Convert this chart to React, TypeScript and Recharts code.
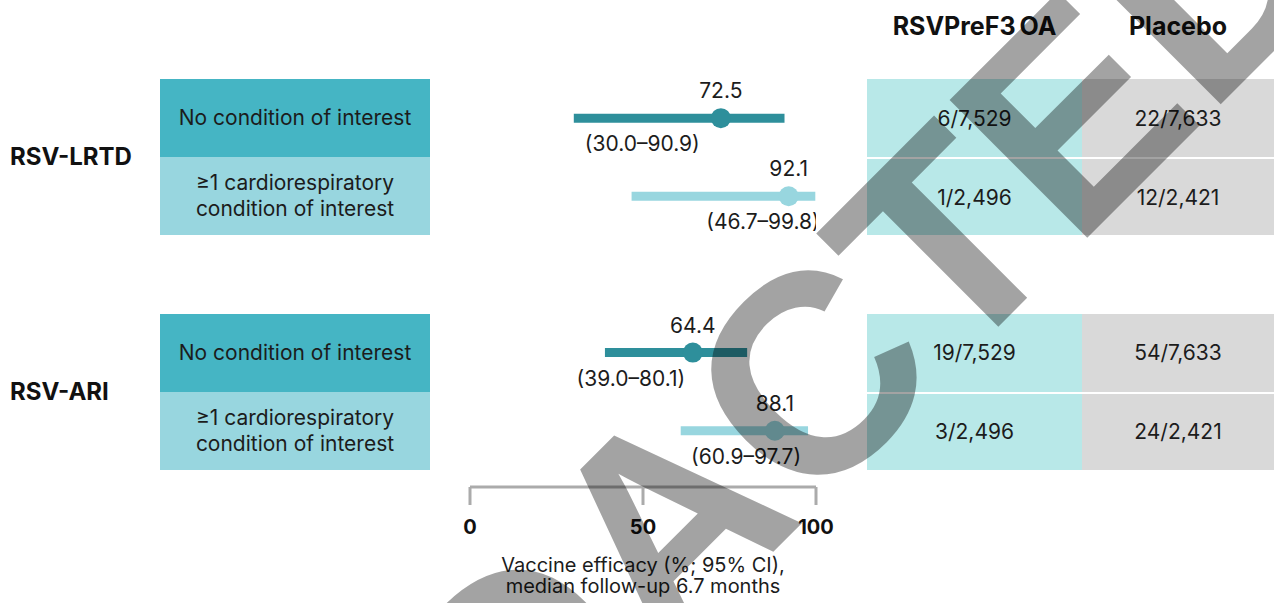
import React from 'react';
import { ComposedChart, Scatter, ErrorBar, XAxis, YAxis } from 'recharts';

// forest plot data, one entry per subgroup row
const outcomes = ['RSV-LRTD', 'RSV-ARI'];
const subgroups = [
  'No condition of interest',
  '≥1 cardiorespiratory condition of interest',
  'No condition of interest',
  '≥1 cardiorespiratory condition of interest',
];
const rowOutcome = [0, 0, 1, 1];
const rowSlot = [0, 1, 3, 4];
const efficacy = [72.5, 92.1, 64.4, 88.1];
const ciLow = [30.0, 46.7, 39.0, 60.9];
const ciHigh = [90.9, 99.8, 80.1, 97.7];
const ciLabelAt = [49.8, 84.7, 46.5, 79.8];
const vaccineCases = ['6/7,529', '1/2,496', '19/7,529', '3/2,496'];
const placeboCases = ['22/7,633', '12/2,421', '54/7,633', '24/2,421'];
const armHeaders = ['RSVPreF3 OA', 'Placebo'];
const xTicks = [0, 50, 100];
const axisTitle = ['Vaccine efficacy (%; 95% CI),', 'median follow-up 6.7 months'];
const watermark = 'REDACTED';

const W = 1274;
const H = 603;
const TOP = 40;
const BOTTOM = 487;
const Y_MIN = -1;
const Y_MAX = 4.72;
const STEP = (BOTTOM - TOP) / (Y_MAX - Y_MIN);
const rowY = (slot: number) => TOP + (slot - Y_MIN) * STEP;

const FONT = 'Inter, "Noto Sans", sans-serif';
const TEXT = '#1c1c1c';
const lineColors = ['#2e8f9b', '#98d6df', '#2e8f9b', '#98d6df'];
const boxColors = ['#45b5c4', '#98d6df', '#45b5c4', '#98d6df'];

const rows = efficacy.map((v, i) => ({
  x: v,
  y: rowSlot[i],
  err: [v - ciLow[i], ciHigh[i] - v],
}));

const ciRows = ciLabelAt.map((v, i) => ({
  x: v,
  y: rowSlot[i],
  label: `(${ciLow[i].toFixed(1)}–${ciHigh[i].toFixed(1)})`,
}));

const AxisTitle = ({ viewBox }: any) => {
  const cx = viewBox.x + viewBox.width / 2;
  return (
    <text textAnchor="middle" fontFamily={FONT} fontSize={20} fill={TEXT}>
      <tspan x={cx} y={572}>{axisTitle[0]}</tspan>
      <tspan x={cx} y={593}>{axisTitle[1]}</tspan>
    </text>
  );
};

export default function App() {
  return (
    <div style={{ position: 'absolute', left: 0, top: 0, width: W, height: H, fontFamily: FONT, color: TEXT, background: '#fff' }}>
      {/* arm headers */}
      {armHeaders.map((h, i) => (
        <div
          key={h}
          style={{
            position: 'absolute',
            left: i === 0 ? 867 : 1082,
            width: i === 0 ? 215 : 192,
            top: 11,
            lineHeight: '30px',
            textAlign: 'center',
            fontWeight: 700,
            fontSize: 25,
            wordSpacing: -2,
            color: '#111',
          }}
        >
          {h}
        </div>
      ))}

      {/* outcome labels */}
      {outcomes.map((o, k) => {
        const idx = rowOutcome.map((g, i) => (g === k ? i : -1)).filter((i) => i >= 0);
        const mid = (rowY(rowSlot[idx[0]]) + rowY(rowSlot[idx[idx.length - 1]])) / 2;
        return (
          <div key={o} style={{ position: 'absolute', left: 10, top: mid - 15, fontWeight: 700, fontSize: 24, color: '#111', lineHeight: '30px' }}>
            {o}
          </div>
        );
      })}

      {/* subgroup boxes and case table */}
      {subgroups.map((s, i) => {
        const top = rowY(rowSlot[i]) - 39;
        const second = i % 2 === 1;
        return (
          <React.Fragment key={i}>
            <div
              style={{
                position: 'absolute',
                left: 160,
                width: 270,
                top,
                height: 78,
                background: boxColors[i],
                display: 'flex',
                alignItems: 'center',
                justifyContent: 'center',
                textAlign: 'center',
                fontSize: 21,
                lineHeight: '26px',
                padding: '0 10px',
                boxSizing: 'border-box',
              }}
            >
              {s}
            </div>
            {[vaccineCases[i], placeboCases[i]].map((c, j) => (
              <div
                key={j}
                style={{
                  position: 'absolute',
                  left: j === 0 ? 867 : 1082,
                  width: j === 0 ? 215 : 192,
                  top,
                  height: 78,
                  boxSizing: 'border-box',
                  borderTop: second ? '2px solid #fff' : 'none',
                  background: j === 0 ? '#b8e8e8' : '#d9d9d9',
                  display: 'flex',
                  alignItems: 'center',
                  justifyContent: 'center',
                  fontSize: 21,
                }}
              >
                {c}
              </div>
            ))}
          </React.Fragment>
        );
      })}

      <div style={{ position: 'absolute', left: 0, top: 0 }}>
        <ComposedChart width={W} height={H} margin={{ top: TOP, right: W - 816, bottom: H - BOTTOM - 60, left: 470 }}>
          <XAxis
            type="number"
            dataKey="x"
            domain={[0, 100]}
            ticks={xTicks}
            interval={0}
            height={60}
            allowDataOverflow
            axisLine={{ stroke: '#ababab', strokeWidth: 3 }}
            tickLine={{ stroke: '#ababab', strokeWidth: 3 }}
            tickSize={18}
            tickMargin={15}
            tick={{ fontSize: 20, fontWeight: 700, fill: '#111', fontFamily: FONT }}
            label={<AxisTitle />}
          />
          <YAxis type="number" dataKey="y" domain={[Y_MIN, Y_MAX]} reversed hide allowDataOverflow />
          {rows.map((r, i) => (
            <Scatter
              key={i}
              data={[r]}
              isAnimationActive={false}
              shape={(p: any) => (
                <g>
                  <circle cx={p.cx} cy={p.cy} r={10} fill={lineColors[i]} />
                  <text x={p.cx} y={p.cy - 20} textAnchor="middle" fontFamily={FONT} fontSize={21} fill={TEXT}>
                    {p.payload.x.toFixed(1)}
                  </text>
                </g>
              )}
            >
              <ErrorBar dataKey="err" direction="x" width={0} strokeWidth={9} stroke={lineColors[i]} />
            </Scatter>
          ))}
          <Scatter
            data={ciRows}
            isAnimationActive={false}
            shape={(p: any) => (
              <text x={p.cx} y={p.cy + 33} textAnchor="middle" fontFamily={FONT} fontSize={21} fill={TEXT}>
                {p.payload.label}
              </text>
            )}
          />
        </ComposedChart>
      </div>

      {/* watermark overlay */}
      <svg width={W} height={H} style={{ position: 'absolute', left: 0, top: 0, pointerEvents: 'none' }}>
        <text
          x={796}
          y={529}
          textAnchor="middle"
          transform="rotate(-45 796 529)"
          fontFamily='"Liberation Sans", Arial, sans-serif'
          fontWeight={700}
          fontSize={283}
          fill="#000"
          fillOpacity={0.36}
        >
          {watermark}
        </text>
      </svg>
    </div>
  );
}
